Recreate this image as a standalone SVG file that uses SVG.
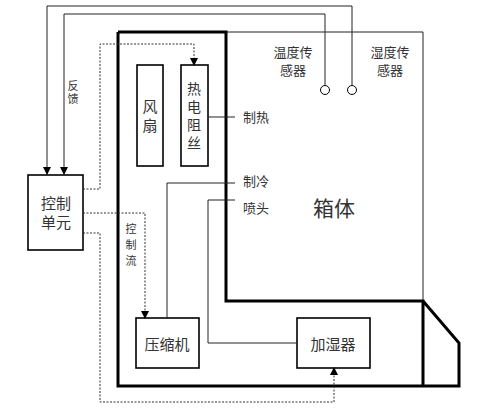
<svg xmlns="http://www.w3.org/2000/svg" width="486" height="408" viewBox="0 0 486 408">
<defs>
<marker id="ah" markerWidth="8" markerHeight="8" refX="7" refY="4" orient="auto" markerUnits="userSpaceOnUse" viewBox="0 0 8 8"><path d="M0,0 L8,4 L0,8 z" fill="#000"/></marker>
<style>
text{font-family:"Noto Sans CJK SC","Liberation Serif",serif;fill:#333;text-anchor:middle;dominant-baseline:central}
.v{writing-mode:vertical-rl}
.thin{fill:none;stroke:#222;stroke-width:1}
.thick{fill:none;stroke:#000;stroke-width:3}
.box{fill:#fff;stroke:#000;stroke-width:1.6}
.dot{fill:none;stroke:#333;stroke-width:1;stroke-dasharray:2,1.5}
</style>
</defs>
<rect width="486" height="408" fill="#fff"/>
<g id="chamber">
<path class="thin" d="M226,32 H423 V301"/>
<path class="thick" d="M118,32 H226 V301 H423 V386 M423,301 L459,343 V386 H118 V32"/>
<text x="334" y="207" font-size="21" fill="#000">箱体</text>
</g>
<g id="fan"><rect class="box" x="137" y="65" width="26" height="101"/><text class="v" x="150" y="118" font-size="15" letter-spacing="4">风扇</text></g>
<g id="heater"><rect class="box" x="181" y="65" width="27" height="101"/>
<text class="v" x="194" y="118" font-size="14" letter-spacing="4">热电阻丝</text></g>
<g id="control"><rect class="box" x="28" y="175" width="55" height="75"/><text x="56" y="202" font-size="15">控制</text><text x="56" y="221" font-size="15">单元</text></g>
<g id="compressor"><rect class="box" x="136" y="318" width="63" height="50"/><text x="167" y="343" font-size="15">压缩机</text></g>
<g id="humidifier"><rect class="box" x="297" y="318" width="73" height="50"/><text x="333" y="343" font-size="15">加湿器</text></g>
<g id="temp-sensor"><circle cx="325" cy="90" r="4.5" fill="#fff" stroke="#000"/><text x="293" y="51" font-size="13">温度传</text><text x="293" y="69" font-size="13">感器</text></g>
<g id="hum-sensor"><circle cx="352" cy="90" r="4.5" fill="#fff" stroke="#000"/><text x="390" y="51" font-size="13">湿度传</text><text x="390" y="69" font-size="13">感器</text></g>
<g id="connectors">
<path class="thin" d="M352,85.5 V6 H47 V174" marker-end="url(#ah)"/>
<path class="thin" d="M325,85.5 V14 H64 V174" marker-end="url(#ah)"/>
<path class="thin" d="M208,117 H235"/>
<path class="thin" d="M167,318 V183 H235"/>
<path class="thin" d="M297,343 H208 V200 H235"/>
<path class="dot" d="M83,189 H100 V44 H194 V65" marker-end="url(#ah)"/>
<path class="dot" d="M83,213 H145 V318" marker-end="url(#ah)"/>
<path class="dot" d="M83,233 H100 V402 H334 V368" marker-end="url(#ah)"/>
<text x="256" y="116" font-size="13">制热</text>
<text x="256" y="180" font-size="13">制冷</text>
<text x="256" y="207" font-size="13">喷头</text>
<text class="v" x="73" y="93.5" font-size="11" letter-spacing="2">反馈</text>
<text class="v" x="131" y="247" font-size="11" letter-spacing="5">控制流</text>
</g>
</svg>
